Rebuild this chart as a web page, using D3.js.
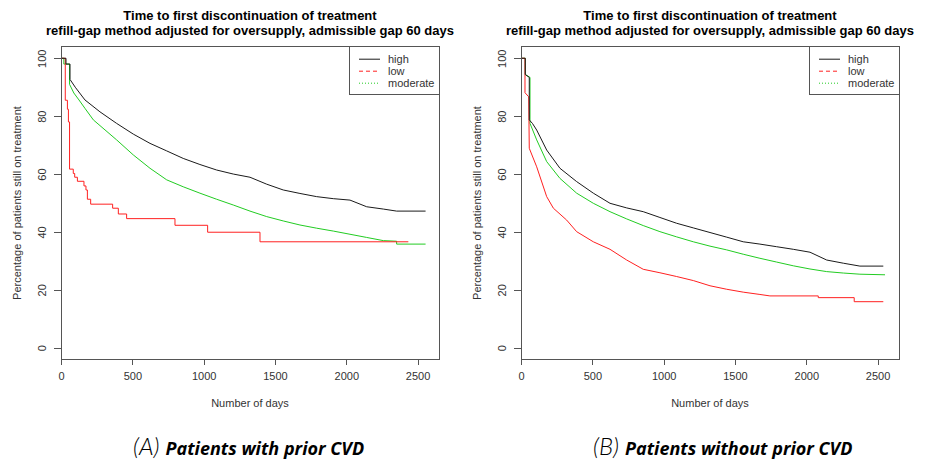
<!DOCTYPE html>
<meta charset="utf-8">
<style>
    body { margin: 0; background: #fff; }
    svg text { font-family: "Liberation Sans", Arial, sans-serif; fill: #333; }
    .box { fill: none; stroke: #555; stroke-width: 1px; shape-rendering: crispEdges; }
    .axis line { stroke: #555; shape-rendering: crispEdges; }
    .curve { fill: none; stroke-width: 1px; }
    svg text.caption { fill: #000; }
</style>
<svg width="931" height="463"></svg>
<script src="https://d3js.org/d3.v7.min.js"></script>
<script>
    // categories and tick labels
    const groups = ["high", "low", "moderate"];
    const xTicks = [0, 500, 1000, 1500, 2000, 2500];
    const yTicks = [0, 20, 40, 60, 80, 100];
    const titleLines = ["Time to first discontinuation of treatment",
        "refill-gap method adjusted for oversupply, admissible gap 60 days"];
    const xLabel = "Number of days";
    const yLabel = "Percentage of patients still on treatment";
    const captionTags = ["(A)", "(B)"];
    const captionTexts = ["Patients with prior CVD", "Patients without prior CVD"];

    // (A) patients with prior CVD : days / % still on treatment
    const daysA_high = [0, 35, 35, 63, 63, 100, 168, 273, 390, 507, 624, 741, 857, 974, 1091, 1208, 1325, 1442, 1558, 1675, 1792, 1909, 2026, 2143, 2260, 2353, 2556];
    const pctA_high  = [100, 100, 98, 98, 92.7, 90, 85.6, 81.5, 77.5, 73.8, 70.6, 68, 65.4, 63.3, 61.4, 60, 58.9, 56.5, 54.5, 53.3, 52.2, 51.5, 51.0, 48.7, 47.9, 47.2, 47.2];
    const daysA_low  = [0, 30, 45, 52, 60, 86, 96, 115, 161, 175, 185, 208, 362, 402, 460, 799, 1028, 1395, 2435];
    const pctA_low   = [100, 85.5, 82.4, 78, 61.7, 60.2, 58.9, 57.5, 55.9, 54.5, 51.3, 49.6, 48.2, 46.2, 44.6, 42.3, 39.9, 36.6, 36.6];
    const daysA_mod  = [0, 20, 20, 60, 60, 90, 126, 168, 227, 390, 507, 624, 741, 857, 974, 1091, 1208, 1325, 1442, 1558, 1675, 1792, 1909, 2026, 2143, 2260, 2353, 2353, 2556];
    const pctA_mod   = [100, 100, 98, 98, 91, 88, 85.6, 82.7, 78.7, 71.8, 66.6, 62, 58.0, 55.6, 53.4, 51.3, 49.3, 47.2, 45.3, 43.8, 42.4, 41.3, 40.3, 39.2, 38.1, 37.0, 36.8, 35.8, 35.8];

    // (B) patients without prior CVD
    const daysB_high = [0, 30, 30, 58, 58, 80, 110, 180, 273, 390, 507, 624, 741, 857, 974, 1091, 1208, 1325, 1442, 1558, 1675, 1792, 1909, 2026, 2143, 2260, 2376, 2540];
    const pctB_high  = [100, 100, 94.4, 93.4, 78.7, 77.5, 75.2, 68.3, 62.0, 57.4, 53.4, 49.9, 48.3, 47.0, 45.0, 43.0, 41.4, 39.8, 38.2, 36.6, 35.8, 34.9, 34.0, 33.0, 30.3, 29.2, 28.2, 28.2];
    const daysB_low  = [0, 28, 28, 54, 58, 110, 180, 227, 320, 390, 507, 624, 741, 857, 974, 1091, 1208, 1325, 1442, 1558, 1675, 1745, 2084, 2084, 2336, 2336, 2540];
    const pctB_low   = [100, 100, 88.1, 86.7, 68.9, 62.5, 52.2, 48.2, 44.1, 40.1, 36.6, 34.0, 30.3, 27.1, 25.9, 24.6, 23.2, 21.4, 20.2, 19.2, 18.4, 17.9, 17.9, 17.3, 17.3, 15.9, 15.9];
    const daysB_mod  = [0, 30, 30, 63, 63, 110, 180, 273, 390, 507, 624, 741, 857, 974, 1091, 1208, 1325, 1442, 1558, 1675, 1792, 1909, 2026, 2143, 2260, 2376, 2552];
    const pctB_mod   = [100, 100, 94.4, 93.4, 77.5, 71.8, 64.3, 58.5, 53.4, 49.9, 47.0, 44.5, 42.2, 40.1, 38.3, 36.6, 35.1, 33.8, 32.3, 30.9, 29.6, 28.3, 27.2, 26.3, 25.8, 25.4, 25.2];

    const colors = { high: "#1a1a1a", low: "#ff2020", moderate: "#22cc22" };
    const legendDash = { high: null, low: "4,3", moderate: "1,2" };

    const panels = [
        { left: 61, capX: 133, series: { high: [daysA_high, pctA_high], low: [daysA_low, pctA_low], moderate: [daysA_mod, pctA_mod] }, stepped: ["low"] },
        { left: 521, capX: 593, series: { high: [daysB_high, pctB_high], low: [daysB_low, pctB_low], moderate: [daysB_mod, pctB_mod] }, stepped: [] }
    ];

    let svg = d3.select("svg");

    panels.forEach(drawPanel);

    function drawPanel(p, i) {
        let g = svg.append("g");
        let x = d3.scaleLinear().domain([0, 2650]).range([p.left, p.left + 378]);
        let y = d3.scaleLinear().domain([-4, 104]).range([359.3, 46.7]);
        let cx = p.left + 189;

        //curves - black last so it sits on top like the original
        ["moderate", "low", "high"].forEach(function(k) {
            let pts = d3.zip(p.series[k][0], p.series[k][1]);
            let line = d3.line()
                .x(function(d) { return x(d[0]); })
                .y(function(d) { return y(d[1]); })
                .curve(p.stepped.includes(k) ? d3.curveStepAfter : d3.curveLinear);
            g.append("path")
                .attr("class", "curve")
                .attr("stroke", colors[k])
                .attr("d", line(pts));
        });

        //axes
        let xa = g.append("g")
            .attr("class", "axis")
            .attr("transform", "translate(0," + y(-4) + ")")
            .call(d3.axisBottom(x).tickValues(xTicks).tickSize(6).tickPadding(7).tickFormat(d3.format("d")));
        xa.select(".domain").remove();
        xa.attr("font-size", 11).attr("font-family", null);

        let ya = g.append("g")
            .attr("class", "axis")
            .attr("transform", "translate(" + x(0) + ",0)")
            .call(d3.axisLeft(y).tickValues(yTicks).tickSize(7).tickFormat(d3.format("d")));
        ya.select(".domain").remove();
        ya.attr("font-size", 11).attr("font-family", null);
        ya.selectAll("text")
            .attr("transform", "rotate(-90)")
            .attr("x", 0).attr("y", -15).attr("dy", null)
            .attr("text-anchor", "middle");

        //box
        g.append("rect").attr("class", "box")
            .attr("x", x(0)).attr("y", y(104))
            .attr("width", x(2650) - x(0)).attr("height", y(-4) - y(104));

        //titles
        titleLines.forEach(function(t, j) {
            g.append("text")
                .attr("x", cx).attr("y", 19.7 + j * 15)
                .attr("text-anchor", "middle")
                .attr("font-size", 13).attr("font-weight", "bold")
                .style("fill", "#000")
                .text(t);
        });

        g.append("text")
            .attr("x", cx).attr("y", 407)
            .attr("text-anchor", "middle").attr("font-size", 11)
            .text(xLabel);

        g.append("text")
            .attr("transform", "translate(" + (p.left - 40) + "," + (y(-4) + y(104)) / 2 + ") rotate(-90)")
            .attr("text-anchor", "middle").attr("font-size", 11)
            .text(yLabel);

        //legend
        let lx = x(2650) - 90, ly = y(104);
        g.append("rect").attr("class", "box")
            .attr("x", lx).attr("y", ly).attr("width", 90).attr("height", 48);
        groups.forEach(function(k, j) {
            let ry = ly + 12.5 + j * 12;
            g.append("line")
                .attr("x1", lx + 10).attr("x2", lx + 31)
                .attr("y1", ry).attr("y2", ry)
                .attr("stroke", colors[k])
                .attr("stroke-dasharray", legendDash[k]);
            g.append("text")
                .attr("x", lx + 39).attr("y", ry + 4)
                .attr("font-size", 11)
                .text(k);
        });

        //caption under the panel
        let cap = g.append("text").attr("class", "caption")
            .attr("x", p.capX).attr("y", 455);
        cap.append("tspan")
            .style("font-family", "Lato, sans-serif")
            .attr("font-size", 24).attr("font-style", "italic").attr("font-weight", 300)
            .text(captionTags[i]);
        cap.append("tspan")
            .style("font-family", "'Open Sans', sans-serif")
            .attr("dx", 6)
            .attr("font-size", 18).attr("font-style", "italic").attr("font-weight", "bold")
            .text(captionTexts[i]);
    }
</script>
<body>
</body>
